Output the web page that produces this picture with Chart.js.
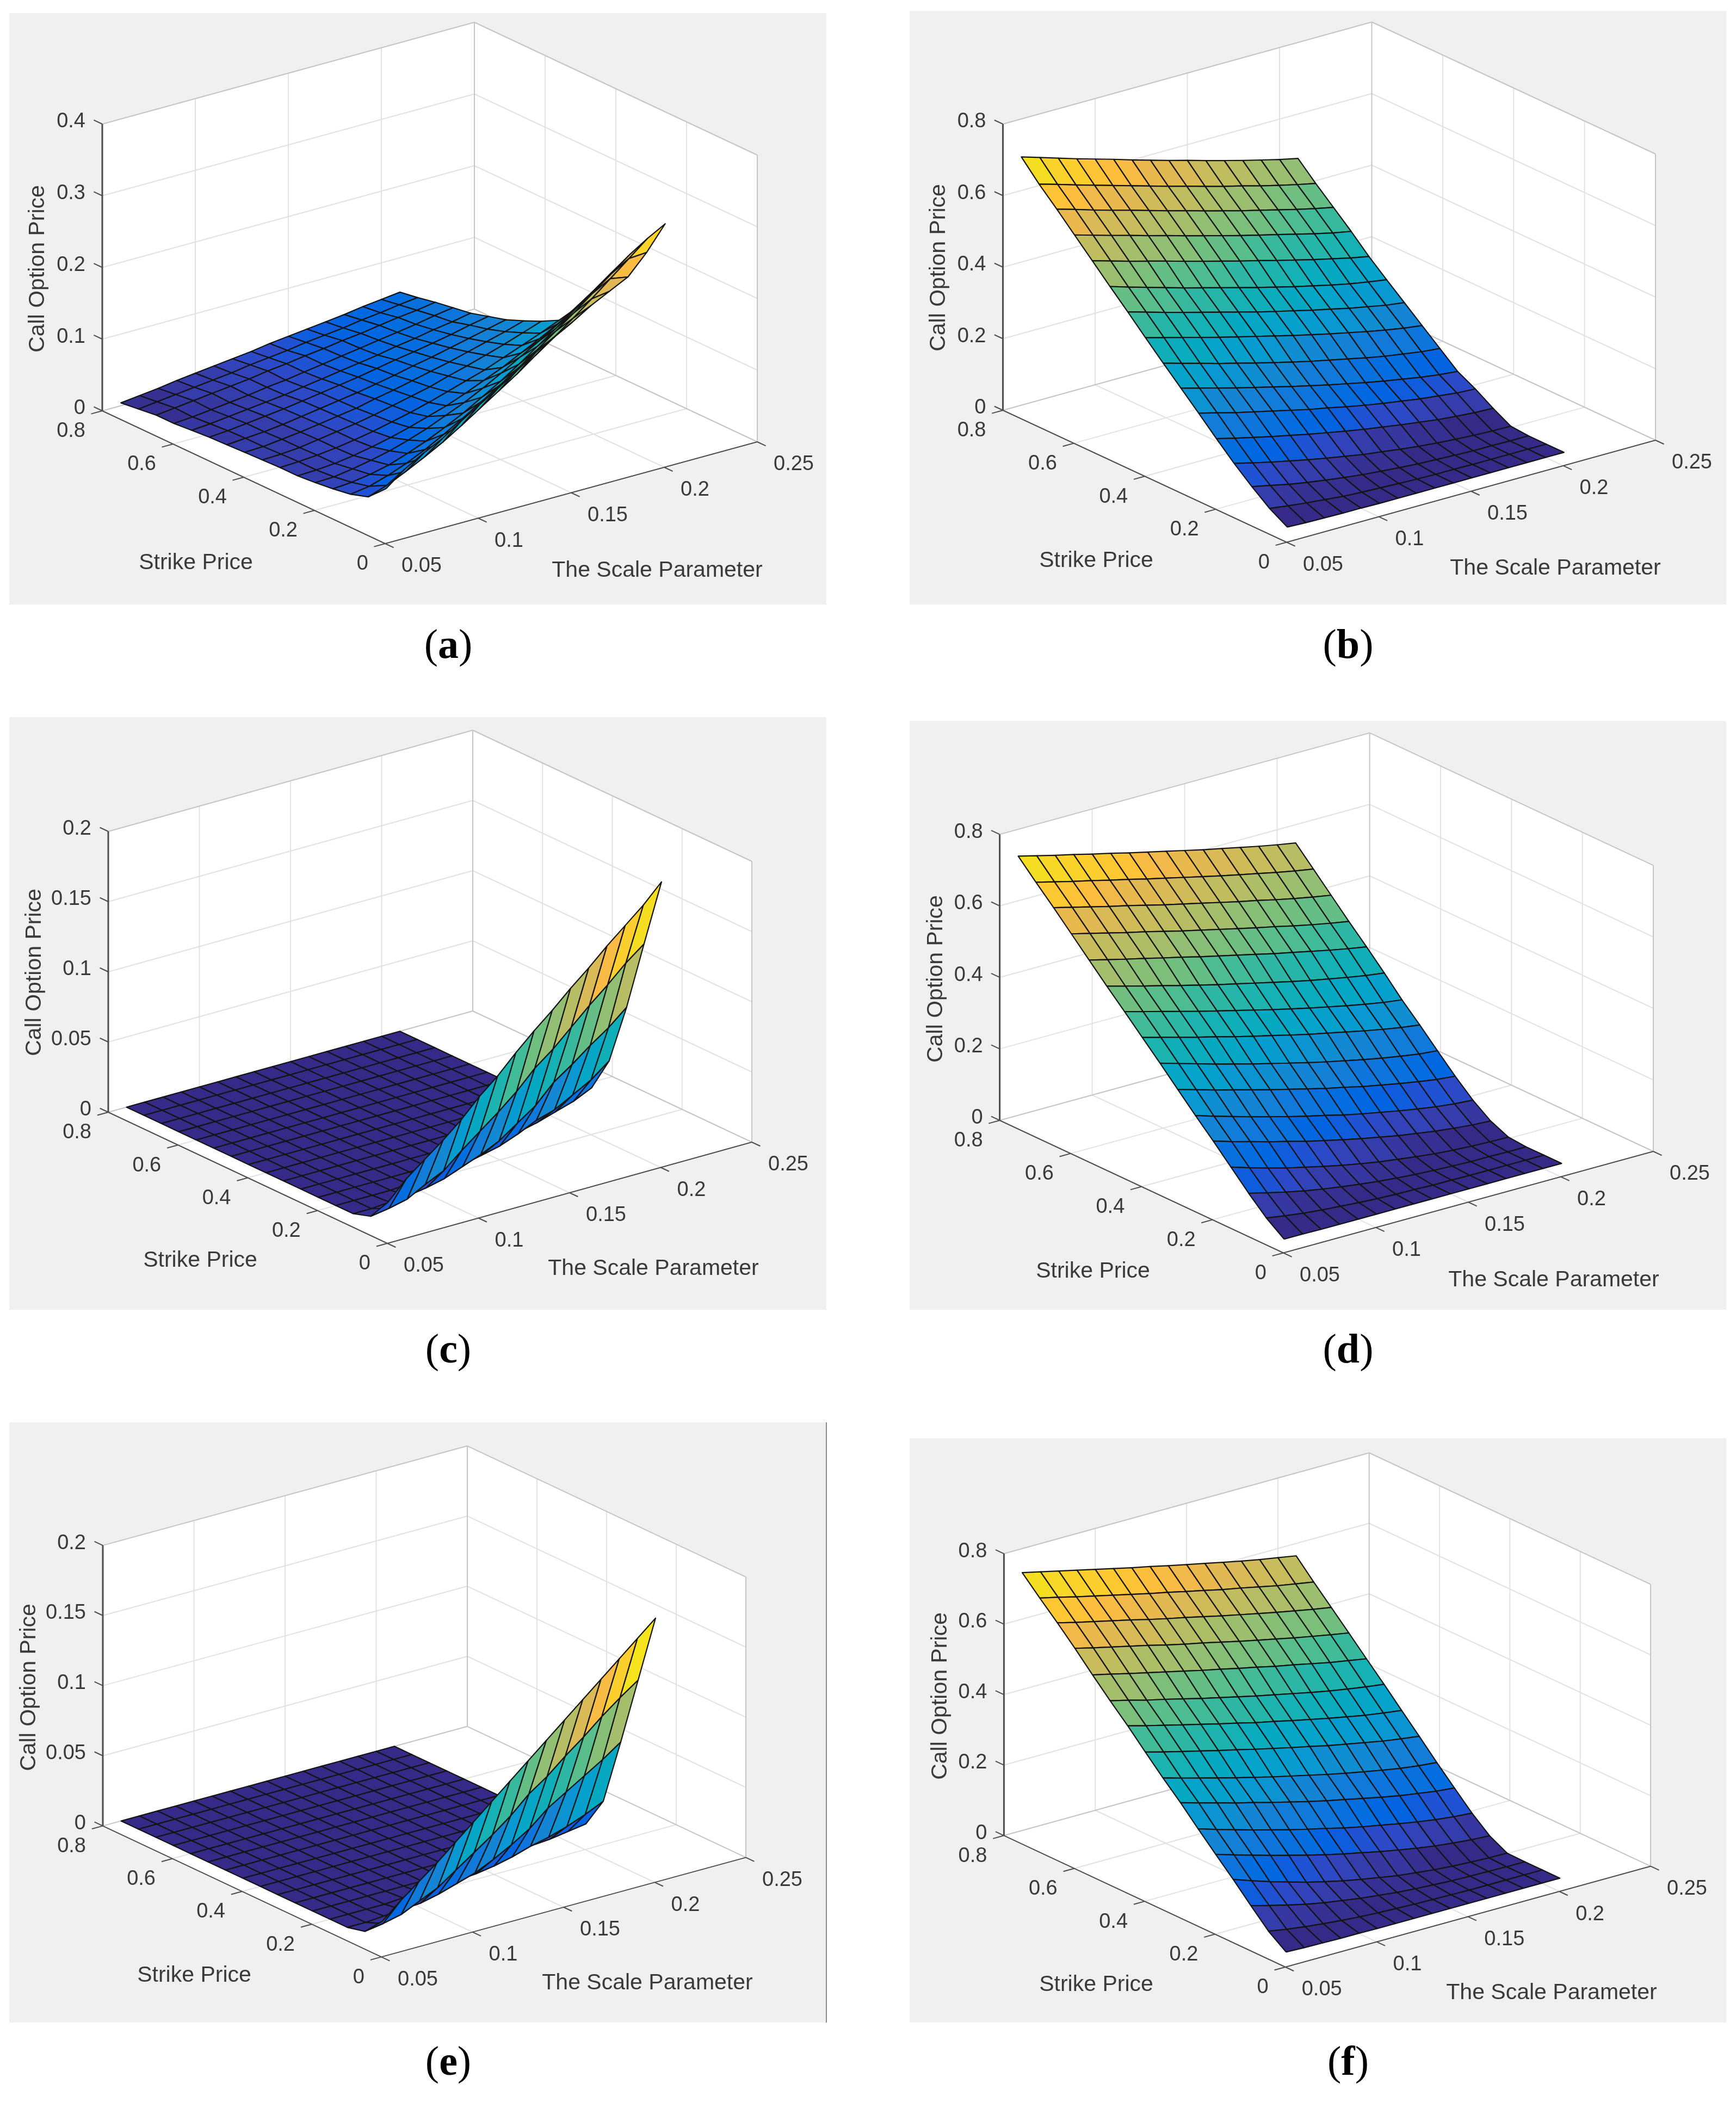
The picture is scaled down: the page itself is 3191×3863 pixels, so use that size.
<!DOCTYPE html>
<html>
<head>
<meta charset="utf-8">
<script src="https://cdn.jsdelivr.net/npm/chart.js@4"></script>
<style>
html,body{margin:0;padding:0;background:#fff;width:3191px;height:3863px;overflow:hidden}
.panel{position:absolute;background:#f0f0f0}
.panel canvas{display:block;filter:blur(0.7px)}
.cap{position:absolute;transform:translate(-50%,-50%);font-family:"Liberation Serif",serif;font-size:76px;color:#000;line-height:1;white-space:nowrap}
.edge{position:absolute;background:#8a8a8a}
</style>
</head>
<body>
<script>
// ---------- axis values ----------
const strikes = [0.05,0.10,0.15,0.20,0.25,0.30,0.35,0.40,0.45,0.50,0.55,0.60,0.65,0.70,0.75,0.80];
const scales  = [0.06,0.07,0.08,0.09,0.10,0.11,0.12,0.13,0.14,0.15,0.16,0.17,0.18,0.19,0.20,0.21];
const strikeTicks = [0,0.2,0.4,0.6,0.8];
const scaleTicks  = [0.05,0.1,0.15,0.2,0.25];
const priceTicksA = [0,0.1,0.2,0.3,0.4];
const priceTicksB = [0,0.2,0.4,0.6,0.8];
const priceTicksC = [0,0.05,0.1,0.15,0.2];

// ---------- surface values: one row per strike, one column per scale ----------
const surfaceA = [
[.058,.078,.093,.106,.123,.139,.155,.172,.190,.205,.219,.235,.248,.261,.288,.321],
[.035,.044,.056,.069,.083,.099,.116,.133,.150,.169,.187,.206,.226,.247,.268,.289],
[.027,.031,.039,.049,.061,.075,.090,.106,.122,.139,.157,.176,.195,.215,.235,.255],
[.023,.025,.029,.035,.044,.054,.066,.079,.094,.109,.126,.144,.162,.181,.200,.219],
[.020,.021,.025,.030,.036,.044,.053,.064,.075,.088,.102,.117,.132,.148,.165,.182],
[.018,.019,.021,.025,.030,.036,.043,.051,.059,.069,.080,.091,.104,.117,.131,.146],
[.018,.019,.021,.024,.028,.033,.039,.045,.052,.060,.068,.076,.086,.096,.106,.117],
[.017,.018,.020,.024,.028,.032,.037,.043,.049,.055,.063,.070,.078,.086,.095,.104],
[.016,.017,.020,.023,.027,.031,.035,.041,.046,.052,.058,.064,.071,.078,.085,.093],
[.015,.017,.019,.022,.026,.030,.034,.038,.043,.048,.054,.059,.065,.071,.077,.083],
[.014,.016,.019,.022,.025,.029,.033,.037,.041,.046,.051,.055,.060,.065,.071,.076],
[.012,.014,.017,.020,.023,.026,.030,.034,.038,.042,.046,.051,.055,.060,.064,.069],
[.010,.012,.015,.018,.021,.025,.028,.032,.036,.040,.044,.048,.052,.056,.061,.065],
[.010,.013,.016,.019,.022,.025,.029,.032,.036,.039,.043,.046,.050,.054,.057,.061],
[.007,.010,.013,.016,.019,.022,.026,.029,.032,.036,.039,.042,.046,.049,.053,.056],
[.004,.007,.010,.014,.017,.020,.023,.026,.030,.033,.036,.039,.042,.046,.049,.052]];
const surfaceB = [
[.005,.003,.002,.001,.001,0,0,0,0,0,0,0,0,0,0,0],
[.034,.027,.021,.016,.011,.008,.006,.004,.002,.001,.001,0,0,0,0,0],
[.072,.061,.050,.041,.033,.026,.020,.015,.011,.007,.005,.003,.001,.001,0,0],
[.114,.101,.089,.078,.067,.057,.048,.039,.032,.025,.019,.014,.010,.007,.005,.004],
[.160,.147,.135,.123,.112,.101,.091,.081,.072,.064,.056,.049,.042,.037,.033,.031],
[.208,.195,.181,.169,.157,.145,.133,.123,.112,.102,.093,.085,.077,.071,.065,.062],
[.255,.241,.227,.213,.200,.187,.174,.162,.150,.139,.128,.118,.109,.100,.093,.088],
[.302,.287,.273,.258,.245,.231,.218,.205,.193,.182,.171,.160,.150,.142,.134,.129],
[.350,.336,.322,.308,.294,.281,.268,.255,.242,.230,.218,.207,.196,.186,.177,.170],
[.399,.384,.369,.355,.341,.327,.313,.299,.286,.274,.261,.250,.238,.228,.218,.211],
[.447,.431,.416,.401,.386,.372,.358,.344,.330,.317,.304,.292,.280,.269,.260,.252],
[.496,.481,.466,.452,.438,.423,.409,.395,.381,.368,.354,.341,.328,.316,.304,.294],
[.545,.530,.515,.501,.486,.472,.457,.443,.429,.415,.402,.389,.376,.363,.351,.341],
[.594,.579,.563,.548,.534,.519,.504,.490,.475,.461,.447,.434,.421,.408,.396,.385],
[.641,.626,.610,.595,.580,.565,.550,.535,.521,.506,.492,.479,.465,.452,.440,.429],
[.694,.678,.662,.646,.631,.616,.600,.585,.570,.556,.541,.527,.513,.500,.487,.476]];
const surfaceC = [
[.020,.033,.043,.053,.064,.077,.088,.101,.113,.124,.136,.147,.159,.170,.181,.194],
[.004,.006,.009,.016,.022,.033,.043,.053,.064,.077,.087,.099,.111,.122,.134,.144],
[0,0,.001,.002,.004,.007,.012,.017,.023,.032,.041,.054,.063,.073,.082,.093],
[0,0,0,0,.001,.002,.003,.004,.007,.010,.015,.021,.025,.032,.039,.049],
[0,0,0,0,0,0,0,.001,.002,.003,.005,.007,.010,.014,.018,.024],
[0,0,0,0,0,0,0,0,0,.001,.002,.003,.004,.006,.008,.012],
[0,0,0,0,0,0,0,0,0,0,0,0,0,.001,.002,.004],
[0,0,0,0,0,0,0,0,0,0,0,0,0,0,0,.001],
[0,0,0,0,0,0,0,0,0,0,0,0,0,0,0,0],
[0,0,0,0,0,0,0,0,0,0,0,0,0,0,0,0],
[0,0,0,0,0,0,0,0,0,0,0,0,0,0,0,0],
[0,0,0,0,0,0,0,0,0,0,0,0,0,0,0,0],
[0,0,0,0,0,0,0,0,0,0,0,0,0,0,0,0],
[0,0,0,0,0,0,0,0,0,0,0,0,0,0,0,0],
[0,0,0,0,0,0,0,0,0,0,0,0,0,0,0,0],
[0,0,0,0,0,0,0,0,0,0,0,0,0,0,0,0]];
const surfaceD = [
[.001,.001,0,0,0,0,0,0,0,0,0,0,0,0,0,0],
[.037,.029,.022,.017,.013,.009,.006,.004,.003,.001,.001,0,0,0,0,0],
[.083,.070,.058,.047,.038,.030,.023,.017,.012,.008,.005,.003,.001,.001,0,0],
[.133,.117,.102,.088,.076,.064,.053,.043,.034,.027,.020,.014,.010,.007,.005,.004],
[.183,.167,.153,.138,.125,.111,.099,.087,.076,.066,.056,.048,.040,.034,.029,.026],
[.231,.215,.200,.185,.171,.157,.144,.132,.119,.108,.098,.088,.079,.071,.065,.061],
[.281,.266,.251,.237,.223,.209,.196,.183,.170,.159,.147,.137,.127,.118,.110,.105],
[.331,.316,.301,.286,.272,.258,.245,.232,.219,.207,.196,.185,.175,.166,.158,.153],
[.380,.366,.352,.338,.325,.311,.298,.286,.273,.261,.250,.239,.228,.218,.209,.202],
[.429,.415,.401,.387,.373,.360,.347,.334,.321,.309,.297,.286,.275,.265,.256,.249],
[.477,.463,.449,.436,.422,.409,.396,.384,.372,.360,.348,.337,.327,.317,.308,.301],
[.527,.514,.501,.489,.476,.464,.451,.439,.427,.415,.403,.392,.381,.370,.360,.351],
[.577,.564,.551,.538,.526,.513,.500,.488,.476,.464,.452,.441,.429,.418,.408,.399],
[.627,.614,.601,.588,.576,.563,.550,.538,.526,.514,.502,.491,.479,.468,.458,.449],
[.675,.662,.649,.637,.624,.612,.599,.587,.575,.563,.551,.540,.529,.518,.508,.499],
[.725,.712,.699,.687,.674,.662,.649,.637,.625,.613,.601,.590,.579,.568,.558,.549]];
const surfaceE = [
[.016,.027,.037,.047,.058,.069,.080,.091,.102,.113,.124,.135,.146,.157,.168,.179],
[.003,.005,.008,.014,.020,.029,.038,.047,.057,.069,.078,.089,.099,.110,.120,.129],
[0,0,.001,.002,.003,.006,.010,.014,.020,.027,.035,.046,.054,.062,.070,.079],
[0,0,0,0,.001,.001,.002,.003,.004,.006,.009,.013,.016,.020,.025,.031],
[0,0,0,0,0,0,0,0,.001,.001,.002,.003,.004,.005,.007,.009],
[0,0,0,0,0,0,0,0,0,0,0,0,.001,.001,.002,.003],
[0,0,0,0,0,0,0,0,0,0,0,0,0,0,0,.001],
[0,0,0,0,0,0,0,0,0,0,0,0,0,0,0,0],
[0,0,0,0,0,0,0,0,0,0,0,0,0,0,0,0],
[0,0,0,0,0,0,0,0,0,0,0,0,0,0,0,0],
[0,0,0,0,0,0,0,0,0,0,0,0,0,0,0,0],
[0,0,0,0,0,0,0,0,0,0,0,0,0,0,0,0],
[0,0,0,0,0,0,0,0,0,0,0,0,0,0,0,0],
[0,0,0,0,0,0,0,0,0,0,0,0,0,0,0,0],
[0,0,0,0,0,0,0,0,0,0,0,0,0,0,0,0],
[0,0,0,0,0,0,0,0,0,0,0,0,0,0,0,0]];
const surfaceF = [
[.005,.003,.002,.001,.001,0,0,0,0,0,0,0,0,0,0,0],
[.041,.032,.025,.019,.014,.010,.007,.005,.003,.002,.001,0,0,0,0,0],
[.090,.076,.063,.051,.041,.033,.025,.019,.013,.009,.006,.003,.002,.001,0,0],
[.141,.123,.106,.091,.076,.063,.051,.041,.032,.023,.017,.011,.007,.004,.002,.001],
[.189,.173,.158,.143,.129,.115,.102,.090,.079,.068,.058,.049,.041,.035,.030,.027],
[.238,.222,.207,.192,.178,.164,.151,.139,.126,.115,.105,.095,.086,.078,.072,.068],
[.289,.274,.260,.245,.232,.218,.205,.192,.180,.169,.158,.147,.137,.129,.121,.116],
[.336,.321,.307,.293,.279,.266,.253,.241,.229,.217,.206,.196,.186,.177,.170,.165],
[.386,.372,.359,.346,.333,.321,.308,.296,.284,.273,.261,.251,.241,.231,.223,.216],
[.437,.423,.410,.397,.384,.371,.359,.346,.335,.323,.312,.301,.291,.281,.273,.266],
[.485,.472,.458,.446,.433,.420,.408,.396,.384,.373,.362,.351,.341,.332,.324,.317],
[.535,.523,.510,.498,.486,.474,.462,.451,.439,.428,.416,.406,.395,.384,.375,.366],
[.587,.574,.562,.550,.538,.525,.513,.502,.490,.478,.467,.456,.445,.435,.425,.416],
[.636,.623,.611,.599,.587,.574,.562,.551,.539,.527,.516,.505,.494,.484,.474,.465],
[.683,.671,.658,.646,.634,.622,.610,.599,.587,.576,.564,.554,.543,.532,.523,.514],
[.732,.720,.708,.696,.684,.672,.660,.649,.637,.626,.615,.604,.593,.583,.574,.565]];

// ---------- parula colour map ----------
const parula = [[.2081,.1663,.5292],[.2116,.1898,.5777],[.2123,.2138,.6270],[.2081,.2386,.6771],[.1959,.2645,.7279],[.1707,.2919,.7792],[.1253,.3242,.8303],[.0591,.3598,.8683],[.0117,.3875,.8820],[.0060,.4086,.8828],[.0165,.4266,.8786],[.0329,.4430,.8720],[.0498,.4586,.8641],[.0629,.4737,.8554],[.0723,.4887,.8467],[.0779,.5040,.8384],[.0793,.5200,.8312],[.0749,.5375,.8263],[.0641,.5570,.8240],[.0488,.5772,.8228],[.0343,.5966,.8199],[.0265,.6137,.8135],[.0239,.6287,.8038],[.0231,.6418,.7913],[.0228,.6535,.7768],[.0267,.6642,.7607],[.0384,.6743,.7436],[.0590,.6838,.7254],[.0843,.6928,.7062],[.1133,.7015,.6859],[.1453,.7098,.6646],[.1801,.7177,.6424],[.2178,.7250,.6193],[.2586,.7317,.5954],[.3022,.7376,.5712],[.3482,.7424,.5473],[.3953,.7459,.5244],[.4420,.7481,.5033],[.4871,.7491,.4840],[.5300,.7491,.4661],[.5709,.7485,.4494],[.6099,.7473,.4337],[.6473,.7456,.4188],[.6834,.7435,.4044],[.7184,.7411,.3905],[.7525,.7384,.3768],[.7858,.7356,.3633],[.8185,.7327,.3498],[.8507,.7299,.3360],[.8824,.7274,.3217],[.9139,.7258,.3063],[.9450,.7261,.2886],[.9739,.7314,.2666],[.9938,.7455,.2403],[.9990,.7653,.2164],[.9955,.7861,.1967],[.9880,.8066,.1794],[.9789,.8271,.1633],[.9697,.8481,.1475],[.9626,.8705,.1309],[.9589,.8949,.1132],[.9598,.9218,.0948],[.9661,.9514,.0755],[.9763,.9831,.0538]];

// ---------- layout (page pixels) ----------
const panels = [
 {name:'a',z:surfaceA,zTicks:priceTicksA,zMax:.4,rect:[17,24,1502,1087],left:[188,755],front:[708,999],right:[1392,812],zLen:527,strikeLabel:[360,1035],scaleLabel:[1208,1049],priceLabel:[70,494],cap:[824,1183]},
 {name:'b',z:surfaceB,zTicks:priceTicksB,zMax:.8,rect:[1672,20,1501,1091],left:[1843.5,754],front:[2365,996.5],right:[3043,809],zLen:526,strikeLabel:[2015,1031],scaleLabel:[2859,1045],priceLabel:[1726,492],cap:[2478,1183]},
 {name:'c',z:surfaceC,zTicks:priceTicksC,zMax:.2,rect:[17,1318,1502,1089],left:[199,2044],front:[712,2285],right:[1382,2099],zLen:516,strikeLabel:[368,2317],scaleLabel:[1201,2332],priceLabel:[64,1787],cap:[824,2478]},
 {name:'d',z:surfaceD,zTicks:priceTicksB,zMax:.8,rect:[1672,1325,1501,1082],left:[1837.6,2059],front:[2359,2302.5],right:[3039,2116],zLen:525.6,strikeLabel:[2009,2337],scaleLabel:[2856,2353],priceLabel:[1721,1799],cap:[2478,2478]},
 {name:'e',z:surfaceE,zTicks:priceTicksC,zMax:.2,rect:[17,2614,1502,1103],left:[189,3355.6],front:[701,3596.4],right:[1371,3413.6],zLen:515.5,strikeLabel:[357,3631],scaleLabel:[1190,3645],priceLabel:[54,3101],cap:[824,3787]},
 {name:'f',z:surfaceF,zTicks:priceTicksB,zMax:.8,rect:[1672,2643,1501,1074],left:[1845.4,3373.3],front:[2362.7,3615],right:[3034,3429.7],zLen:518,strikeLabel:[2015,3648],scaleLabel:[2852,3663],priceLabel:[1729,3117],cap:[2478,3787]}
];
const TEXT = '#3a3a3a', AXIS = '#4d4d4d', BOX = '#c4c4c4', GRID = '#e2e2e2';
const SCALE_MIN=.05, SCALE_SPAN=.2, STRIKE_SPAN=.8;

function build(p){
  const [rx,ry,rw,rh]=p.rect;
  const ex=[p.right[0]-p.front[0],p.right[1]-p.front[1]];
  const ek=[p.left[0]-p.front[0],p.left[1]-p.front[1]];
  // orthographic projection of (scale, strike, price) to panel coordinates
  const proj=(s,k,v)=>({
    x:p.front[0]+ex[0]*(s-SCALE_MIN)/SCALE_SPAN+ek[0]*k/STRIKE_SPAN-rx,
    y:p.front[1]+ex[1]*(s-SCALE_MIN)/SCALE_SPAN+ek[1]*k/STRIKE_SPAN-p.zLen*v/p.zMax-ry
  });
  const sMax=SCALE_MIN+SCALE_SPAN, zM=p.zMax;
  const ds=[];
  const add=(d)=>{d.order=-ds.length;d.showLine=true;d.pointRadius=0;d.tension=0;ds.push(d);};
  const seg=(a,b,color,w)=>add({data:[a,b],borderColor:color,borderWidth:w,fill:false,borderCapStyle:'butt'});

  // white walls and floor
  add({label:'box',data:[proj(SCALE_MIN,STRIKE_SPAN,zM),proj(sMax,STRIKE_SPAN,zM),proj(sMax,0,zM),proj(sMax,0,0),proj(SCALE_MIN,0,0),proj(SCALE_MIN,STRIKE_SPAN,0),proj(SCALE_MIN,STRIKE_SPAN,zM)],
       borderColor:'#fff',borderWidth:0,backgroundColor:'#fff',fill:'shape'});
  // grid lines
  scaleTicks.slice(1,-1).forEach(s=>{
    seg(proj(s,0,0),proj(s,STRIKE_SPAN,0),GRID,2);
    seg(proj(s,STRIKE_SPAN,0),proj(s,STRIKE_SPAN,zM),GRID,2);
  });
  strikeTicks.slice(1,-1).forEach(k=>{
    seg(proj(SCALE_MIN,k,0),proj(sMax,k,0),GRID,2);
    seg(proj(sMax,k,0),proj(sMax,k,zM),GRID,2);
  });
  p.zTicks.slice(1,-1).forEach(v=>{
    seg(proj(SCALE_MIN,STRIKE_SPAN,v),proj(sMax,STRIKE_SPAN,v),GRID,2);
    seg(proj(sMax,STRIKE_SPAN,v),proj(sMax,0,v),GRID,2);
  });
  // box edges
  seg(proj(sMax,STRIKE_SPAN,0),proj(sMax,STRIKE_SPAN,zM),BOX,2);
  seg(proj(sMax,0,0),proj(sMax,0,zM),BOX,2);
  seg(proj(SCALE_MIN,STRIKE_SPAN,zM),proj(sMax,STRIKE_SPAN,zM),BOX,2);
  seg(proj(sMax,STRIKE_SPAN,zM),proj(sMax,0,zM),BOX,2);
  seg(proj(SCALE_MIN,STRIKE_SPAN,0),proj(sMax,STRIKE_SPAN,0),BOX,2);
  seg(proj(sMax,STRIKE_SPAN,0),proj(sMax,0,0),BOX,2);
  // axes and tick marks
  seg(proj(SCALE_MIN,STRIKE_SPAN,0),proj(SCALE_MIN,STRIKE_SPAN,zM),AXIS,3);
  seg(proj(SCALE_MIN,STRIKE_SPAN,0),proj(SCALE_MIN,0,0),AXIS,2);
  seg(proj(SCALE_MIN,0,0),proj(sMax,0,0),AXIS,2);
  const tickK=.024, tickS=.006;
  p.zTicks.forEach(v=>seg(proj(SCALE_MIN,STRIKE_SPAN,v),proj(SCALE_MIN,STRIKE_SPAN+tickK,v),AXIS,2));
  strikeTicks.forEach(k=>seg(proj(SCALE_MIN,k,0),proj(SCALE_MIN-tickS,k,0),AXIS,2));
  scaleTicks.forEach(s=>seg(proj(s,0,0),proj(s,-tickK,0),AXIS,2));

  // surface facets, back to front; a facet takes the colour of its lowest-strike, lowest-scale corner
  const cells=[];
  let top=0; p.z.forEach(r=>r.forEach(v=>{if(v>top)top=v;}));
  const depth=(s,k,v)=>-Math.abs(ek[0])*.933*(s-SCALE_MIN)/SCALE_SPAN-Math.abs(ex[0])*.933*k/STRIKE_SPAN+p.zLen*.38*v/zM;
  for(let i=0;i<strikes.length-1;i++)for(let j=0;j<scales.length-1;j++){
    const c=[[i,j],[i,j+1],[i+1,j+1],[i+1,j]];
    const d=c.reduce((t,[a,b])=>t+depth(scales[b],strikes[a],p.z[a][b]),0)/4;
    const idx=Math.min(parula.length-1,Math.floor(p.z[i][j]/top*parula.length));
    const col=parula[idx];
    cells.push({c,d,color:`rgb(${Math.round(col[0]*255)},${Math.round(col[1]*255)},${Math.round(col[2]*255)})`});
  }
  cells.sort((a,b)=>a.d-b.d);
  cells.forEach(cell=>{
    const pts=cell.c.map(([a,b])=>proj(scales[b],strikes[a],p.z[a][b]));
    pts.push(pts[0]);
    add({data:pts,backgroundColor:cell.color,borderColor:'#141414',borderWidth:2.2,borderJoinStyle:'round',fill:'shape'});
  });

  const textPlugin={id:'labels'+p.name,afterDraw(chart){
    const c=chart.ctx,X=chart.scales.x,Y=chart.scales.y;
    const at=q=>[X.getPixelForValue(q.x),Y.getPixelForValue(q.y)];
    c.save();
    c.fillStyle=TEXT;c.textBaseline='middle';
    c.font='38px "Liberation Sans", Arial, sans-serif';
    c.textAlign='right';
    p.zTicks.forEach(v=>{const [x,y]=at(proj(SCALE_MIN,STRIKE_SPAN,v));c.fillText(String(v),x-31,y-4);});
    strikeTicks.forEach(k=>{const [x,y]=at(proj(SCALE_MIN,k,0));c.fillText(String(k),x-31,y+38);});
    c.textAlign='left';
    scaleTicks.forEach(s=>{const [x,y]=at(proj(s,0,0));c.fillText(String(s),x+30,y+42);});
    c.textAlign='center';
    c.font='41px "Liberation Sans", Arial, sans-serif';
    c.fillText('Strike Price',X.getPixelForValue(p.strikeLabel[0]-rx),Y.getPixelForValue(p.strikeLabel[1]-ry));
    c.fillText('The Scale Parameter',X.getPixelForValue(p.scaleLabel[0]-rx),Y.getPixelForValue(p.scaleLabel[1]-ry));
    c.translate(X.getPixelForValue(p.priceLabel[0]-rx),Y.getPixelForValue(p.priceLabel[1]-ry));
    c.rotate(-Math.PI/2);
    c.fillText('Call Option Price',0,0);
    c.restore();
  }};

  const div=document.createElement('div');
  div.className='panel';
  div.style.cssText=`left:${rx}px;top:${ry}px;width:${rw}px;height:${rh}px`;
  const cv=document.createElement('canvas');
  cv.width=rw;cv.height=rh;cv.style.width=rw+'px';cv.style.height=rh+'px';
  div.appendChild(cv);document.body.appendChild(div);
  new Chart(cv,{type:'scatter',data:{datasets:ds},plugins:[textPlugin],options:{
    responsive:false,animation:false,devicePixelRatio:1,events:[],
    layout:{padding:0},
    plugins:{legend:{display:false},tooltip:{enabled:false},title:{display:false}},
    scales:{x:{type:'linear',min:0,max:rw,display:false},y:{type:'linear',min:0,max:rh,reverse:true,display:false}}
  }});

  const cap=document.createElement('div');
  cap.className='cap';
  cap.style.left=p.cap[0]+'px';cap.style.top=p.cap[1]+'px';
  cap.innerHTML='(<b>'+p.name+'</b>)';
  document.body.appendChild(cap);
}
panels.forEach(build);
const edge=document.createElement('div');
edge.className='edge';
edge.style.cssText='left:1518px;top:2614px;width:2px;height:1103px';
document.body.appendChild(edge);
</script>
</body>
</html>
